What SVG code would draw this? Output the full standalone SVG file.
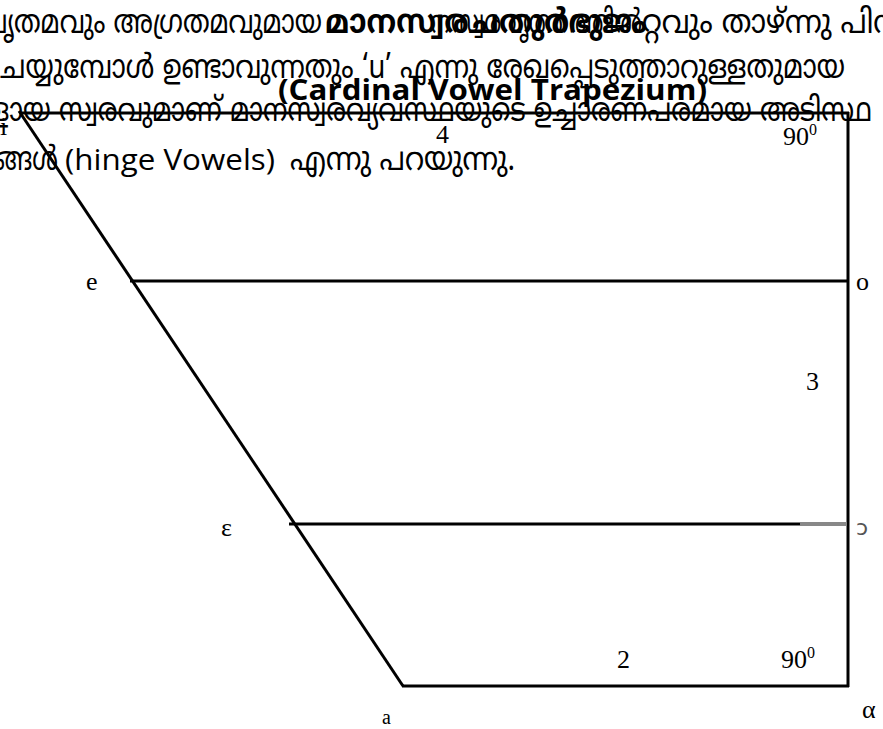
<svg xmlns="http://www.w3.org/2000/svg" width="883" height="729" viewBox="0 0 883 729">
<style>
.ml{font-family:"Noto Sans Malayalam","Noto Sans","DejaVu Sans",sans-serif;font-size:33px;fill:#000}
.mlb{font-family:"Noto Sans Malayalam","Noto Sans","DejaVu Sans",sans-serif;font-size:33px;font-weight:bold;fill:#000}
.lab{font-family:"Liberation Serif","Times New Roman",serif;font-size:26px;fill:#000}
.ln{stroke:#000;stroke-width:3;fill:none}
</style>
<rect width="883" height="729" fill="#fff"/>
<g id="text-block">
<text class="ml" x="-16" y="33" textLength="338" lengthAdjust="spacingAndGlyphs">പൃതമവും അഗ്രതമവുമായ</text>
<text class="ml" x="642" y="33" textLength="258" lengthAdjust="spacingAndGlyphs">റ്റവും താഴ്ന്നു പിന്</text>
<text class="ml" x="430" y="33" textLength="212" lengthAdjust="spacingAndGlyphs">നസ്വരവൃത്തത്തിൽ</text>
<text class="mlb" x="325" y="33" textLength="322" lengthAdjust="spacingAndGlyphs">മാനസ്വരചതുർഭുജം</text>
<text class="ml" x="0" y="78" textLength="845" lengthAdjust="spacingAndGlyphs">ചയ്യുമ്പോൾ ഉണ്ടാവുന്നതും ‘u’ എന്നു രേഖപ്പെടുത്താറുള്ളതുമായ</text>
<text class="ml" x="-10" y="121" textLength="882" lengthAdjust="spacingAndGlyphs">ളായ സ്വരവുമാണ് മാനസ്വരവ്യവസ്ഥയുടെ ഉച്ചാരണപരമായ അടിസ്ഥ</text>
<text class="ml" x="-6" y="170" textLength="64" lengthAdjust="spacingAndGlyphs">ങ്ങൾ</text>
<text x="65" y="170" font-family="'Open Sans','Noto Sans',sans-serif" font-size="29" textLength="210" lengthAdjust="spacingAndGlyphs">(hinge Vowels)</text>
<text class="ml" x="290" y="170" textLength="225" lengthAdjust="spacingAndGlyphs">എന്നു പറയുന്നു.</text>
<text x="278" y="100" font-family="'Open Sans','Noto Sans',sans-serif" font-size="28" font-weight="bold" textLength="429" lengthAdjust="spacingAndGlyphs">(Cardinal Vowel Trapezium)</text>
</g>
<g id="connectors">
<line class="ln" x1="20" y1="113" x2="849" y2="113"/>
<line class="ln" x1="848" y1="112" x2="848" y2="687"/>
<line class="ln" x1="19" y1="111" x2="403" y2="686"/>
<line class="ln" x1="130" y1="281" x2="848" y2="281"/>
<line class="ln" x1="289" y1="524" x2="800" y2="524"/>
<line x1="800" y1="524" x2="847" y2="524" stroke="#888" stroke-width="4"/>
<line class="ln" x1="402" y1="686" x2="849" y2="686"/>
</g>
<g id="node-i"><text class="lab" x="0" y="135">i</text></g>
<g id="node-4"><text class="lab" x="436" y="143">4</text></g>
<g id="node-90top"><text class="lab" x="783" y="145">90<tspan font-size="16" dy="-10">0</tspan></text></g>
<g id="node-e"><text class="lab" x="86" y="290">e</text></g>
<g id="node-o"><text class="lab" x="856" y="290">o</text></g>
<g id="node-3"><text class="lab" x="806" y="390">3</text></g>
<g id="node-eps"><text class="lab" x="221" y="536">ε</text></g>
<g id="node-open-o"><text x="856" y="535" font-family="'DejaVu Sans',sans-serif" font-size="22" fill="#555">ɔ</text></g>
<g id="node-2"><text class="lab" x="617" y="668">2</text></g>
<g id="node-90bot"><text class="lab" x="781" y="668">90<tspan font-size="16" dy="-10">0</tspan></text></g>
<g id="node-a"><text x="382" y="724" font-family="'Liberation Serif',serif" font-size="20">a</text></g>
<g id="node-alpha"><text class="lab" x="862" y="718">α</text></g>
</svg>
